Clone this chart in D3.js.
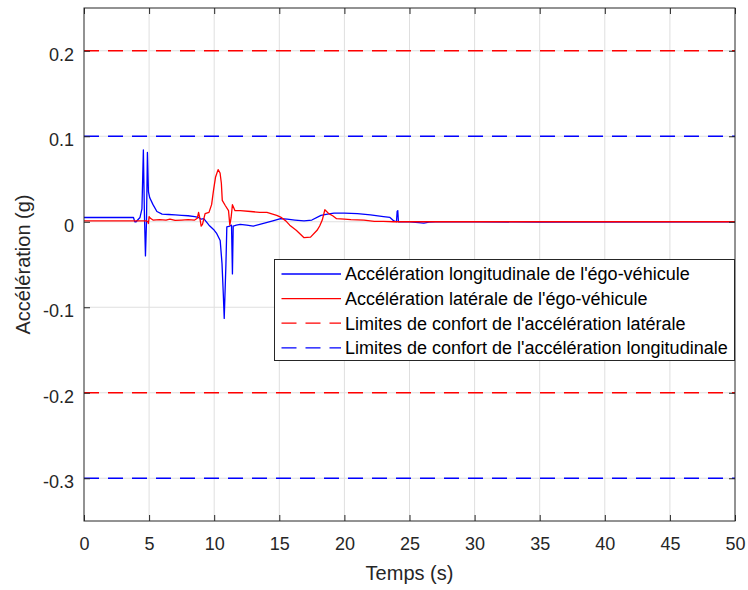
<!DOCTYPE html>
<html>
<head>
<meta charset="utf-8">
<script src="https://cdn.jsdelivr.net/npm/d3@7"></script>
<style>
  html, body { margin: 0; padding: 0; background: #ffffff; }
  svg { display: block; font-family: "Liberation Sans", Arial, Helvetica, sans-serif; }
</style>
</head>
<body>
<svg id="chart" width="748" height="590"></svg>
<script>
// ---------------- DATA ----------------
const xTicks = [0, 5, 10, 15, 20, 25, 30, 35, 40, 45, 50];
const yTicks = [-0.3, -0.2, -0.1, 0, 0.1, 0.2];
const yTickLabels = ["-0.3", "-0.2", "-0.1", "0", "0.1", "0.2"];

// Accélération longitudinale (blue)
const longTime = [0, 3.8, 3.9, 4.0, 4.3, 4.45, 4.56, 4.64, 4.72, 4.8, 4.87, 4.95, 5.05, 5.3, 5.6, 6.0, 6.5, 7.0, 7.5, 8.0, 8.5, 8.8, 9.0, 9.2, 9.6, 9.95, 10.2, 10.46, 10.6, 10.7, 10.77, 10.9, 10.97, 11.2, 11.33, 11.4, 11.46, 11.7, 12.0, 12.5, 13.0, 13.5, 14.0, 14.5, 15.1, 15.6, 16.2, 16.9, 17.5, 18.2, 18.7, 19.2, 20.0, 21.0, 22.0, 23.0, 23.5, 23.8, 24.0, 24.05, 24.1, 24.15, 24.3, 25.0, 25.7, 26.1, 26.5, 27.0, 30.0, 35.0, 50.0];
const longAcc  = [0.005, 0.005, 0.0, 0.0, 0.005, 0.015, 0.084, 0.01, -0.040, 0.0, 0.081, 0.035, 0.028, 0.02, 0.012, 0.009, 0.0085, 0.008, 0.0075, 0.007, 0.006, 0.005, 0.003, 0.0036, -0.004, -0.009, -0.014, -0.022, -0.049, -0.085, -0.113, -0.05, -0.006, -0.005, -0.004, -0.061, -0.005, -0.004, -0.003, -0.004, -0.005, -0.003, -0.001, 0.001, 0.0036, 0.003, 0.002, 0.001, 0.002, 0.0075, 0.009, 0.010, 0.010, 0.0095, 0.008, 0.006, 0.005, 0.001, 0.0, 0.012, 0.013, 0.0, 0.0, 0.0, -0.001, -0.0015, -0.0005, 0.0, 0.0, -0.0005, 0.0];

// Accélération latérale (red)
const latTime = [0, 4.5, 4.8, 4.9, 4.95, 5.0, 5.1, 5.3, 5.8, 6.3, 6.6, 7.0, 7.5, 8.0, 8.5, 8.7, 8.8, 8.9, 9.0, 9.1, 9.3, 9.6, 9.8, 9.95, 10.1, 10.3, 10.45, 10.55, 10.62, 10.85, 11.1, 11.2, 11.3, 11.4, 11.6, 12.0, 12.8, 13.5, 14.05, 14.8, 15.1, 15.5, 15.8, 16.3, 16.9, 17.4, 17.9, 18.1, 18.3, 18.5, 18.8, 19.1, 19.4, 20.0, 20.5, 21.5, 22.3, 23.0, 23.8, 50.0];
const latAcc  = [0.001, 0.001, 0.001, 0.0, -0.002, 0.006, 0.004, 0.002, 0.0025, 0.002, 0.003, 0.0015, 0.002, 0.0025, 0.002, 0.004, 0.011, 0.004, -0.005, -0.003, 0.0095, 0.011, 0.02, 0.037, 0.052, 0.061, 0.057, 0.045, 0.025, 0.019, 0.013, -0.004, 0.005, 0.020, 0.013, 0.013, 0.012, 0.011, 0.011, 0.0075, 0.0055, 0.001, -0.004, -0.01, -0.0186, -0.018, -0.01, -0.005, 0.002, 0.014, 0.0095, 0.007, 0.0036, 0.003, 0.0025, 0.002, 0.0005, 0.0005, 0.0, 0.0];

// Limites de confort
const latLimits = [0.2, -0.2];
const longLimits = [0.1, -0.3];

const legendLabels = [
  "Accélération longitudinale de l'égo-véhicule",
  "Accélération latérale de l'égo-véhicule",
  "Limites de confort de l'accélération latérale",
  "Limites de confort de l'accélération longitudinale"
];
const xLabel = "Temps (s)";
const yLabel = "Accélération (g)";

// ---------------- LAYOUT ----------------
const L = 84, T = 8, R = 735, B = 521;
const axisColor = "#262626";
const gridColor = "#dfdfdf";
const blue = "#0000ff", red = "#ff0000";

const svg = d3.select("#chart");
const x = d3.scaleLinear().domain([0, 50]).range([L, R]);
const y = d3.scaleLinear().domain([-0.35, 0.25]).range([B, T]);

// grid
const grid = svg.append("g");
grid.selectAll("line.vx").data(xTicks.slice(1, -1)).join("line")
  .attr("x1", d => x(d)).attr("x2", d => x(d)).attr("y1", T).attr("y2", B)
  .attr("stroke", gridColor).attr("stroke-width", 1);
grid.selectAll("line.hy").data(yTicks).join("line")
  .attr("x1", L).attr("x2", R).attr("y1", d => y(d)).attr("y2", d => y(d))
  .attr("stroke", gridColor).attr("stroke-width", 1);

// data lines
const line = d3.line().x(d => x(d[0])).y(d => y(d[1]));
const longData = longTime.map((t, i) => [t, longAcc[i]]);
const latData = latTime.map((t, i) => [t, latAcc[i]]);

svg.append("path").datum(longData).attr("d", line)
  .attr("fill", "none").attr("stroke", blue).attr("stroke-width", 1.3).attr("stroke-linejoin", "round");
svg.append("path").datum(latData).attr("d", line)
  .attr("fill", "none").attr("stroke", red).attr("stroke-width", 1.3).attr("stroke-linejoin", "round");

// comfort limits
svg.selectAll("line.lat").data(latLimits).join("line")
  .attr("x1", L).attr("x2", R).attr("y1", d => y(d)).attr("y2", d => y(d))
  .attr("stroke", red).attr("stroke-width", 1.3).attr("stroke-dasharray", "15,9");
svg.selectAll("line.lon").data(longLimits).join("line")
  .attr("x1", L).attr("x2", R).attr("y1", d => y(d)).attr("y2", d => y(d))
  .attr("stroke", blue).attr("stroke-width", 1.3).attr("stroke-dasharray", "15,9");

// axes
function styleAxis(g) {
  g.select(".domain").remove();
  g.selectAll(".tick line").attr("stroke", axisColor);
  g.selectAll(".tick text").attr("fill", axisColor).style("font-size", "18px")
    .style("font-family", '"Liberation Sans", Arial, Helvetica, sans-serif');
}
svg.append("g").attr("transform", `translate(0,${B})`)
  .call(d3.axisBottom(x).tickValues(xTicks).tickSize(-6).tickSizeOuter(0).tickPadding(16.5))
  .call(styleAxis);
svg.append("g").attr("transform", `translate(0,${T})`)
  .call(d3.axisTop(x).tickValues(xTicks).tickSize(-6).tickSizeOuter(0).tickFormat(""))
  .call(styleAxis);
svg.append("g").attr("transform", `translate(${L},0)`)
  .call(d3.axisLeft(y).tickValues(yTicks).tickSize(-6).tickSizeOuter(0).tickPadding(10)
    .tickFormat((d, i) => yTickLabels[i]))
  .call(styleAxis)
  .call(g => g.selectAll(".tick text").attr("dy", "0.52em"));
svg.append("g").attr("transform", `translate(${R},0)`)
  .call(d3.axisRight(y).tickValues(yTicks).tickSize(-6).tickSizeOuter(0).tickFormat(""))
  .call(styleAxis);

// box
svg.append("rect").attr("x", L).attr("y", T).attr("width", R - L).attr("height", B - T)
  .attr("fill", "none").attr("stroke", axisColor).attr("stroke-width", 1);

// axis labels
svg.append("text").attr("x", (L + R) / 2).attr("y", 580)
  .attr("text-anchor", "middle").attr("fill", axisColor).style("font-size", "20px").text(xLabel);
svg.append("text").attr("transform", `translate(30,${(T + B) / 2}) rotate(-90)`)
  .attr("text-anchor", "middle").attr("fill", axisColor).style("font-size", "20px").text(yLabel);

// legend
const lg = svg.append("g");
lg.append("rect").attr("x", 274.5).attr("y", 259.5).attr("width", 460).attr("height", 101)
  .attr("fill", "#ffffff").attr("stroke", axisColor).attr("stroke-width", 1);
const legendStyles = [
  { color: blue, dash: null },
  { color: red, dash: null },
  { color: red, dash: "15,9" },
  { color: blue, dash: "15,9" }
];
legendLabels.forEach((lab, i) => {
  const cy = 274 + i * 24.6;
  lg.append("line").attr("x1", 281.5).attr("x2", 341).attr("y1", cy).attr("y2", cy)
    .attr("stroke", legendStyles[i].color).attr("stroke-width", 1.3)
    .attr("stroke-dasharray", legendStyles[i].dash);
  lg.append("text").attr("x", 345).attr("y", cy).attr("dy", "0.35em")
    .attr("fill", "#000000").style("font-size", "18px").text(lab);
});
</script>
</body>
</html>
